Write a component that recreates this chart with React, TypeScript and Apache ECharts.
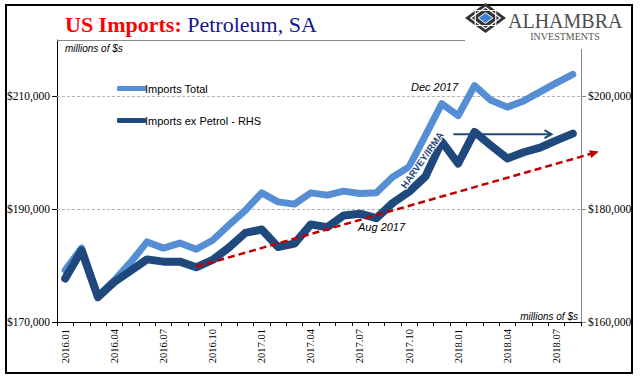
import React, { useEffect, useRef } from 'react';
import * as echarts from 'echarts';

const categories = [
  '2016.01', '2016.02', '2016.03', '2016.04', '2016.05', '2016.06', '2016.07', '2016.08',
  '2016.09', '2016.10', '2016.11', '2016.12', '2017.01', '2017.02', '2017.03', '2017.04',
  '2017.05', '2017.06', '2017.07', '2017.08', '2017.09', '2017.10', '2017.11', '2017.12',
  '2018.01', '2018.02', '2018.03', '2018.04', '2018.05', '2018.06', '2018.07', '2018.08',
];

// Left axis (millions of $)
const importsTotal = [
  179200, 183100, 174600, 177400, 180600, 184200, 183100, 184000, 182900, 184500, 187200, 189800,
  192900, 191300, 190900, 192900, 192500, 193200, 192800, 192900, 195700, 197500, 203100, 208700,
  206600, 211900, 209300, 208100, 209200, 210800, 212400, 213900,
];

// Right axis (millions of $)
const importsExPetrol = [
  167700, 172700, 164400, 167100, 169100, 171100, 170700, 170700, 169700, 171000, 173200, 175800,
  176400, 173300, 173900, 177300, 176800, 178900, 179200, 178400, 181100, 183100, 185800, 192000,
  188100, 193700, 191300, 189000, 190100, 190900, 192200, 193400,
];

const leftTicks = [170000, 190000, 210000];
const rightTicks = [160000, 180000, 200000];
const gridValues = [190000, 210000];

const trendStart = { cat: '2016.09', value: 169800 };
const trendEnd = { cat: '2018.08', value: 188900 };
const flatArrow = { from: '2018.01', to: '2018.07', value: 193300 };

export default function App() {
  const ref = useRef<HTMLDivElement>(null);

  useEffect(() => {
    const chart = echarts.init(ref.current!, null, { renderer: 'svg' });
    const serif = 'Liberation Serif';
    const sans = 'Liberation Sans';
    const fmt = (v: number) => '$' + v.toLocaleString('en-US');
    const light = '#558ed5';
    const dark = '#1f497d';

    chart.setOption({
      animation: false,
      backgroundColor: '#ffffff',
      grid: { left: 57, right: 60, top: 40, bottom: 59, containLabel: false },
      legend: {
        orient: 'vertical',
        left: 112,
        top: 78,
        itemGap: 21,
        itemWidth: 29,
        itemHeight: 5,
        icon: 'roundRect',
        selectedMode: false,
        textStyle: { fontFamily: sans, fontSize: 11, color: '#000', padding: [0, 0, 0, -6] },
        data: ['Imports Total', 'Imports ex Petrol - RHS'],
      },
      xAxis: {
        type: 'category',
        data: categories,
        boundaryGap: true,
        axisLine: { show: true, lineStyle: { color: '#000', width: 1 } },
        axisTick: { show: true, interval: 0, length: 4, lineStyle: { color: '#000' } },
        axisLabel: { interval: 2, rotate: 90, fontFamily: serif, fontSize: 10.5, color: '#000', margin: 7 },
        splitLine: { show: false },
      },
      yAxis: [
        {
          type: 'value',
          position: 'left',
          min: 170000,
          max: 220000,
          interval: 20000,
          axisLine: { show: true, lineStyle: { color: '#000', width: 1 } },
          axisTick: { show: true, length: 5, customValues: leftTicks, lineStyle: { color: '#000' } },
          axisLabel: { customValues: leftTicks, formatter: fmt, fontFamily: serif, fontSize: 11.5, color: '#000', margin: 7 },
          splitLine: { show: false },
        },
        {
          type: 'value',
          position: 'right',
          min: 160000,
          max: 210000,
          interval: 20000,
          axisLine: { show: true, lineStyle: { color: '#888', width: 1 } },
          axisTick: { show: true, length: 5, customValues: rightTicks, lineStyle: { color: '#888' } },
          axisLabel: { customValues: rightTicks, formatter: fmt, fontFamily: serif, fontSize: 11.5, color: '#000', margin: 7 },
          splitLine: { show: false },
        },
      ],
      series: [
        {
          name: 'Imports Total',
          type: 'line',
          yAxisIndex: 0,
          data: importsTotal,
          symbol: 'none',
          showSymbol: false,
          z: 2,
          lineStyle: { color: light, width: 7, cap: 'round', join: 'round' },
          itemStyle: { color: light },
          markLine: {
            silent: true,
            symbol: 'none',
            z: 1,
            label: { show: false },
            lineStyle: { color: '#b4b4b4', type: [3, 2], width: 1 },
            data: gridValues.map((v) => ({ yAxis: v })),
          },
        },
        {
          name: 'Imports ex Petrol - RHS',
          type: 'line',
          yAxisIndex: 1,
          data: importsExPetrol,
          symbol: 'none',
          showSymbol: false,
          z: 3,
          lineStyle: { color: dark, width: 8, cap: 'round', join: 'round' },
          itemStyle: { color: dark },
        },
      ],
    });

    const px = (cat: string, v: number) => chart.convertToPixel({ seriesIndex: 1 }, [cat, v]) as number[];

    // Trend (red dashed) line, extended past the last month
    const p0 = px(trendStart.cat, trendStart.value);
    const p1 = px(trendEnd.cat, trendEnd.value);
    const ext = 1.064;
    const pe = [p0[0] + (p1[0] - p0[0]) * ext, p0[1] + (p1[1] - p0[1]) * ext];
    const len = Math.hypot(pe[0] - p0[0], pe[1] - p0[1]);
    const ux = (pe[0] - p0[0]) / len;
    const uy = (pe[1] - p0[1]) / len;
    const tipR = [pe[0] + ux * 2, pe[1] + uy * 2];
    const headR = [
      [tipR[0], tipR[1]],
      [tipR[0] - ux * 9 - uy * 4, tipR[1] - uy * 9 + ux * 4],
      [tipR[0] - ux * 9 + uy * 4, tipR[1] - uy * 9 - ux * 4],
    ];

    // Flat blue arrow
    const a0 = px(flatArrow.from, flatArrow.value);
    const a1 = px(flatArrow.to, flatArrow.value);
    const band = px(categories[1], 0)[0] - px(categories[0], 0)[0];
    const ax0 = a0[0] - 0.3 * band;
    const ax1 = a1[0] - 0.3 * band;

    // logo diamond
    const cx = 485.5, cy = 18, hw = 20.5, hh = 15;
    const dia = (s: number) => [
      [cx, cy - hh * s], [cx + hw * s, cy], [cx, cy + hh * s], [cx - hw * s, cy],
    ];

    chart.setOption({
      graphic: [
        {
          type: 'rect', z: 20, silent: true,
          shape: { x: 6, y: 5, width: 626, height: 368 },
          style: { fill: 'none', stroke: '#000', lineWidth: 2 },
        },
        {
          type: 'line', z: 20, silent: true,
          shape: { x1: 57, y1: 40.5, x2: 465, y2: 40.5 },
          style: { stroke: '#888', lineWidth: 1 },
        },
        {
          type: 'rect', z: 20, silent: true,
          shape: { x: 577, y: 39, width: 8, height: 10 },
          style: { fill: '#fff' },
        },
        {
          type: 'text', z: 20, x: 65, y: 24,
          style: {
            text: '{a|US Imports:} {b|Petroleum, SA}',
            verticalAlign: 'middle',
            rich: {
              a: { fontFamily: serif, fontSize: 22, fontWeight: 'bold', fill: '#ff0000' },
              b: { fontFamily: serif, fontSize: 22, fill: '#16168c' },
            },
            fontFamily: serif,
            fontSize: 22,
          },
        },
        {
          type: 'text', z: 20, x: 65, y: 48,
          style: { text: 'millions of $s', fontFamily: sans, fontStyle: 'italic', fontSize: 10, fill: '#000', verticalAlign: 'middle' },
        },
        {
          type: 'text', z: 20, x: 578, y: 316,
          style: { text: 'millions of $s', fontFamily: sans, fontStyle: 'italic', fontSize: 10, fill: '#000', align: 'right', verticalAlign: 'middle' },
        },
        // logo
        { type: 'polygon', z: 20, shape: { points: dia(1) }, style: { fill: '#333' } },
        { type: 'polygon', z: 21, shape: { points: dia(0.72) }, style: { fill: 'none', stroke: '#fff', lineWidth: 1.2 } },
        {
          type: 'polygon', z: 21,
          shape: { points: [[cx - hw * 0.5, cy - hh * 0.5], [cx + hw * 0.5, cy - hh * 0.5], [cx + hw * 0.5, cy + hh * 0.5], [cx - hw * 0.5, cy + hh * 0.5]] },
          style: { fill: 'none', stroke: '#fff', lineWidth: 1.2 },
        },
        { type: 'polygon', z: 22, shape: { points: dia(0.36) }, style: { fill: '#3d7fd0', stroke: '#fff', lineWidth: 1 } },
        {
          type: 'text', z: 20, x: 508, y: 21,
          style: { text: 'ALHAMBRA', fontFamily: serif, fontSize: 20, fill: '#4d4d4d', verticalAlign: 'middle' },
        },
        {
          type: 'text', z: 20, x: 565, y: 36,
          style: { text: 'INVESTMENTS', fontFamily: serif, fontSize: 10, fill: '#555', align: 'center', verticalAlign: 'middle' },
        },
        // annotations
        {
          type: 'text', z: 20, x: 411, y: 87,
          style: { text: 'Dec 2017', fontFamily: sans, fontStyle: 'italic', fontSize: 11, fill: '#000', verticalAlign: 'middle' },
        },
        {
          type: 'text', z: 20, x: 358, y: 227,
          style: { text: 'Aug 2017', fontFamily: sans, fontStyle: 'italic', fontSize: 11, fill: '#000', verticalAlign: 'middle' },
        },
        {
          type: 'text', z: 20, x: 422, y: 160, rotation: (55 * Math.PI) / 180,
          style: {
            text: 'HARVEY/IRMA', fontFamily: sans, fontWeight: 'bold', fontSize: 9.5, fill: dark,
            stroke: '#fff', lineWidth: 2, align: 'center', verticalAlign: 'middle',
          },
        },
        {
          type: 'line', z: 15, silent: true,
          shape: { x1: p0[0], y1: p0[1], x2: pe[0] - ux * 4, y2: pe[1] - uy * 4 },
          style: { stroke: '#c00000', lineWidth: 2.5, lineDash: [7, 4] },
        },
        {
          type: 'polygon', z: 15, silent: true,
          shape: { points: headR },
          style: { fill: '#c00000' },
        },
        {
          type: 'line', z: 15, silent: true,
          shape: { x1: ax0, y1: a0[1], x2: ax1, y2: a1[1] },
          style: { stroke: dark, lineWidth: 2 },
        },
        {
          type: 'polyline', z: 15, silent: true,
          shape: { points: [[ax1 - 7, a1[1] - 4], [ax1, a1[1]], [ax1 - 7, a1[1] + 4]] },
          style: { stroke: dark, lineWidth: 2, fill: 'none' },
        },
      ],
    });

    return () => chart.dispose();
  }, []);

  return <div ref={ref} style={{ position: 'absolute', left: 0, top: 0, width: 641, height: 381 }} />;
}
